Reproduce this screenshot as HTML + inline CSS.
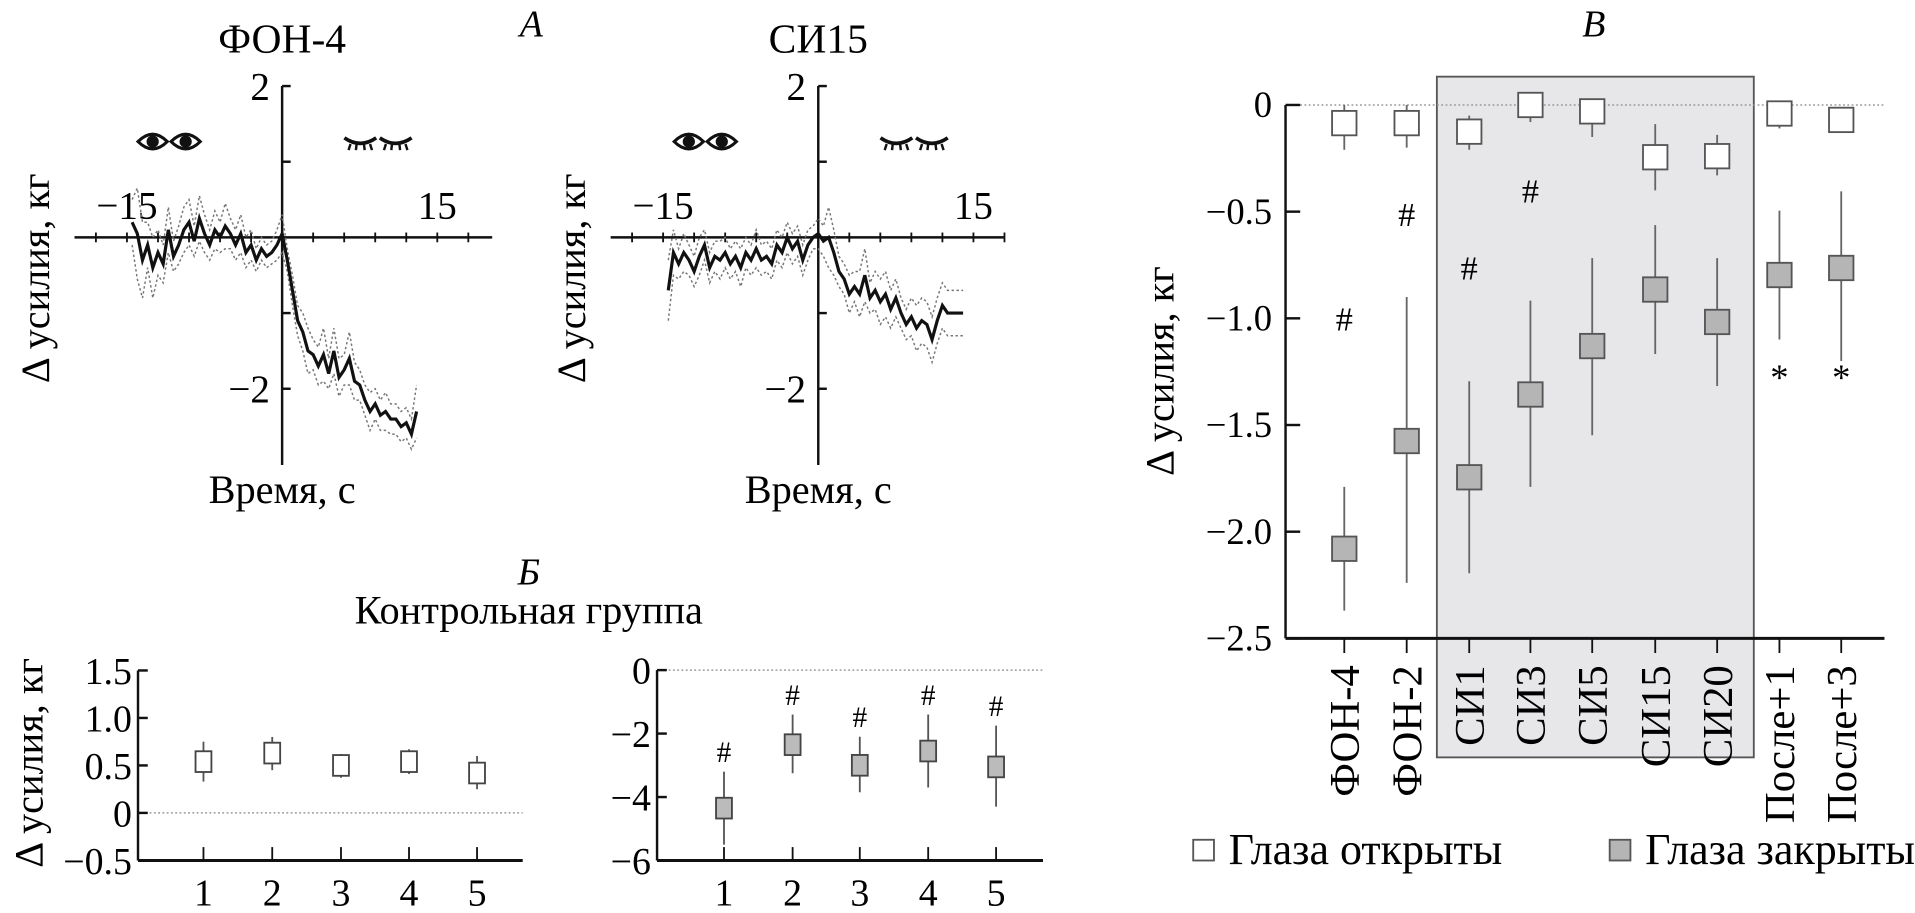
<!DOCTYPE html>
<html><head><meta charset="utf-8"><style>
html,body{margin:0;padding:0;background:#fff;}
svg{display:block;font-family:"Liberation Serif",serif;}
</style></head><body>
<svg id="fig" width="1915" height="913" viewBox="0 0 1568 748" preserveAspectRatio="none" xmlns="http://www.w3.org/2000/svg">
<g id="gA1"></g>
<g id="gA2"></g>
<g id="gB1"></g>
<g id="gB2"></g>
<g id="gC"></g>
</svg>
<script>
// ---- Panel A data ----
const timesA1 = [-14.5,-14,-13.5,-13,-12.5,-12,-11.5,-11,-10.5,-10,-9.5,-9,-8.5,-8,-7.5,-7,-6.5,-6,-5.5,-5,-4.5,-4,-3.5,-3,-2.5,-2,-1.5,-1,-0.5,0,0.5,1,1.5,2,2.5,3,3.5,4,4.5,5,5.5,6,6.5,7,7.5,8,8.5,9,9.5,10,10.5,11,11.5,12,12.5,13];
const meanA1 = [0.2,0.05,-0.3,-0.1,-0.4,-0.2,-0.35,0.1,-0.25,-0.1,0.1,0.2,-0.05,0.25,0.05,-0.1,0.1,0.0,0.15,0.05,-0.1,0.05,-0.2,-0.1,-0.3,-0.15,-0.25,-0.2,-0.1,0.05,-0.3,-0.7,-1.1,-1.25,-1.5,-1.55,-1.7,-1.55,-1.8,-1.5,-1.85,-1.75,-1.6,-1.9,-1.95,-2.15,-2.3,-2.2,-2.35,-2.3,-2.4,-2.4,-2.5,-2.45,-2.6,-2.3];
const sdA1 = [0.3,0.6,0.5,0.3,0.4,0.3,0.25,0.3,0.2,0.25,0.3,0.3,0.2,0.3,0.25,0.2,0.25,0.2,0.3,0.2,0.2,0.25,0.2,0.2,0.15,0.15,0.15,0.15,0.2,0.25,0.15,0.2,0.2,0.25,0.3,0.2,0.25,0.35,0.2,0.3,0.25,0.2,0.35,0.25,0.2,0.2,0.25,0.2,0.2,0.25,0.2,0.2,0.2,0.2,0.2,0.35];
const timesA2 = [-14.5,-14,-13.5,-13,-12.5,-12,-11.5,-11,-10.5,-10,-9.5,-9,-8.5,-8,-7.5,-7,-6.5,-6,-5.5,-5,-4.5,-4,-3.5,-3,-2.5,-2,-1.5,-1,-0.5,0,0.5,1,1.5,2,2.5,3,3.5,4,4.5,5,5.5,6,6.5,7,7.5,8,8.5,9,9.5,10,10.5,11,11.5,12,12.5,13,13.5,14];
const meanA2 = [-0.7,-0.2,-0.35,-0.2,-0.3,-0.45,-0.25,-0.1,-0.4,-0.25,-0.3,-0.2,-0.35,-0.25,-0.4,-0.2,-0.3,-0.15,-0.3,-0.25,-0.35,-0.1,-0.2,0.0,-0.15,-0.05,-0.3,-0.1,0.0,0.05,-0.05,0.0,-0.2,-0.45,-0.55,-0.75,-0.65,-0.75,-0.5,-0.8,-0.7,-0.85,-0.75,-0.95,-0.8,-1.0,-1.15,-1.05,-1.2,-1.1,-1.15,-1.35,-1.1,-0.9,-1.0,-1.0,-1.0,-1.0];
const sdA2 = [0.4,0.3,0.2,0.25,0.2,0.2,0.25,0.2,0.2,0.2,0.25,0.2,0.2,0.2,0.25,0.2,0.2,0.25,0.2,0.2,0.2,0.2,0.2,0.2,0.2,0.2,0.2,0.2,0.15,0.2,0.2,0.4,0.3,0.2,0.2,0.25,0.2,0.3,0.35,0.2,0.25,0.3,0.3,0.25,0.25,0.2,0.2,0.25,0.3,0.3,0.3,0.3,0.3,0.3,0.3,0.3,0.3,0.3];
const xTicksA = ["−15","15"];
const yTicksA = ["2","−2"];
// ---- Panel Б data ----
const catsB = ["1","2","3","4","5"];
const openB = [0.54,0.63,0.5,0.54,0.42];
const openLoB = [0.33,0.45,0.37,0.41,0.25];
const openHiB = [0.75,0.8,0.62,0.67,0.6];
const yTicksB1 = [1.5,1.0,0.5,0,-0.5];
const closedB = [-4.35,-2.35,-3.0,-2.55,-3.05];
const closedLoB = [-5.5,-3.25,-3.85,-3.7,-4.3];
const closedHiB = [-3.2,-1.4,-2.1,-1.4,-1.75];
const yTicksB2 = [0,-2,-4,-6];
// ---- Panel В data ----
const catsC = ["ФОН-4","ФОН-2","СИ1","СИ3","СИ5","СИ15","СИ20","После+1","После+3"];
const openC = [-0.085,-0.085,-0.125,0,-0.03,-0.245,-0.24,-0.04,-0.07];
const openLoC = [-0.21,-0.2,-0.21,-0.08,-0.15,-0.4,-0.33,-0.11,-0.07];
const openHiC = [0,0,-0.05,0,-0.03,-0.09,-0.14,-0.04,-0.07];
const closedC = [-2.08,-1.575,-1.745,-1.357,-1.13,-0.865,-1.017,-0.797,-0.764];
const closedLoC = [-2.37,-2.24,-2.195,-1.79,-1.548,-1.167,-1.317,-1.099,-1.2];
const closedHiC = [-1.79,-0.9,-1.295,-0.917,-0.718,-0.563,-0.718,-0.495,-0.405];
const hashC = [-1.0,-0.51,-0.76,-0.4,null,null,null,null,null];
const starC = [null,null,null,null,null,null,null,-1.25,-1.25];
const yTicksC = [0,-0.5,-1.0,-1.5,-2.0,-2.5];
const yTickLabelsC = ["0","−0.5","−1.0","−1.5","−2.0","−2.5"];

const NS="http://www.w3.org/2000/svg";
function mk(parent,tag,attrs,text){const e=document.createElementNS(NS,tag);for(const k in attrs)e.setAttribute(k,attrs[k]);if(text!==undefined)e.textContent=text;parent.appendChild(e);return e;}
function fmt(v){return v<0?"−"+Math.abs(v).toFixed(1):v===0?"0":v.toFixed(1);}

// ---- Panel A ----
function panelA(g,ax,title,times,mean,sd,axRight){
  const X=t=>ax+t*8.47, Y=v=>194.5-v*62;
  let e=mk(g,"text",{x:ax,y:43,"font-size":34,"text-anchor":"middle"},title);
  
  e=mk(g,"line",{x1:ax,y1:Y(2),x2:ax,y2:381,stroke:"#111","stroke-width":2});
  
  e=mk(g,"line",{x1:ax-170,y1:Y(0),x2:axRight,y2:Y(0),stroke:"#111","stroke-width":2});
  
  [2,1,-1,-2].forEach(v=>{const t=mk(g,"line",{x1:ax,y1:Y(v),x2:ax+7,y2:Y(v),stroke:"#111","stroke-width":2});});
  for(let t=-18;t<=18;t+=3){if(t===0)continue;const l=mk(g,"line",{x1:X(t),y1:Y(0)-4,x2:X(t),y2:Y(0)+4,stroke:"#111","stroke-width":1.5});}
  e=mk(g,"text",{x:X(-15),y:179,"font-size":32,"text-anchor":"middle"},xTicksA[0]);
  e=mk(g,"text",{x:X(15),y:179,"font-size":32,"text-anchor":"middle"},xTicksA[1]);
  e=mk(g,"text",{x:ax-10,y:Y(2)+11,"font-size":32,"text-anchor":"end"},yTicksA[0]);
  e=mk(g,"text",{x:ax-10,y:Y(-2)+11,"font-size":32,"text-anchor":"end"},yTicksA[1]);
  e=mk(g,"text",{x:ax,y:412,"font-size":33,"text-anchor":"middle"},"Время, с");
  e=mk(g,"text",{x:0,y:0,"font-size":33,"text-anchor":"middle",transform:`translate(${ax-191},228) rotate(-90)`},"Δ усилия, кг");
  const up=times.map((t,i)=>X(t)+","+Y(mean[i]+sd[i])).join(" ");
  const lo=times.map((t,i)=>X(t)+","+Y(mean[i]-sd[i])).join(" ");
  e=mk(g,"polyline",{points:up,fill:"none",stroke:"#777","stroke-width":1.2,"stroke-dasharray":"2,2"});
  e=mk(g,"polyline",{points:lo,fill:"none",stroke:"#777","stroke-width":1.2,"stroke-dasharray":"2,2"});
  e=mk(g,"polyline",{points:times.map((t,i)=>X(t)+","+Y(mean[i])).join(" "),fill:"none",stroke:"#111","stroke-width":2.6});
  [ax-106,ax-79].forEach(cx=>{const eg=mk(g,"g",{});
    mk(eg,"path",{d:`M${cx-12},116 Q${cx},104 ${cx+12},116 Q${cx},128 ${cx-12},116Z`,fill:"#fff",stroke:"#111","stroke-width":2.5});
    mk(eg,"circle",{cx:cx,cy:116,r:5,fill:"#111"});});
  [ax+64,ax+93].forEach(cx=>{const eg=mk(g,"g",{});
    mk(eg,"path",{d:`M${cx-13},113 Q${cx},122 ${cx+13},113`,fill:"none",stroke:"#111","stroke-width":3});
    [-8,-3,3,8].forEach(d=>mk(eg,"line",{x1:cx+d,y1:118,x2:cx+d*1.2,y2:123,stroke:"#111","stroke-width":2}));});
}
panelA(document.getElementById("gA1"),231,"ФОН-4",timesA1,meanA1,sdA1,403);
panelA(document.getElementById("gA2"),670,"СИ15",timesA2,meanA2,sdA2,822);
{const g=document.getElementById("gA1");
 let e=mk(g,"text",{x:435,y:30,"font-size":31,"font-style":"italic","text-anchor":"middle"},"А");}

// ---- Panel Б ----
const xB1=[166.6,222.9,279.2,334.9,390.6], xB2=[592.8,649,704,760,815.6];
function panelB(g,ax,axR,Y,yt,ylabels,xs,vals,lo,hi,fill,marks){
  let e=mk(g,"line",{x1:ax,y1:Y(yt[0]),x2:ax,y2:705,stroke:"#111","stroke-width":2});
  e=mk(g,"line",{x1:ax,y1:705,x2:axR,y2:705,stroke:"#111","stroke-width":2.5});
  e=mk(g,"line",{x1:ax+6,y1:Y(0),x2:axR,y2:Y(0),stroke:"#999","stroke-width":1.2,"stroke-dasharray":"1.5,2"});
  yt.forEach((v,i)=>{let t=mk(g,"line",{x1:ax,y1:Y(v),x2:ax+8,y2:Y(v),stroke:"#111","stroke-width":2});
    t=mk(g,"text",{x:ax-5,y:Y(v)+11,"font-size":31,"text-anchor":"end"},ylabels[i]);});
  xs.forEach((x,i)=>{let t=mk(g,"line",{x1:x,y1:694,x2:x,y2:705,stroke:"#111","stroke-width":1.5});
    t=mk(g,"text",{x:x,y:742,"font-size":31,"text-anchor":"middle"},catsB[i]);
    t=mk(g,"line",{x1:x,y1:Y(lo[i]),x2:x,y2:Y(hi[i]),stroke:"#555","stroke-width":1.5});
    t=mk(g,"rect",{x:x-6.5,y:Y(vals[i])-8.5,width:13,height:17,fill:fill,stroke:"#444","stroke-width":1.5});
    if(marks){t=mk(g,"text",{x:x,y:Y(hi[i])-8,"font-size":24,"text-anchor":"middle"},"#");}
  });
}
panelB(document.getElementById("gB1"),113,428,v=>666-v*77.8,yTicksB1,yTicksB1.map(fmt),xB1,openB,openLoB,openHiB,"#fff",false);
panelB(document.getElementById("gB2"),538,854,v=>549-v*26,yTicksB2,yTicksB2.map(v=>v<0?"−"+Math.abs(v):"0"),xB2,closedB,closedLoB,closedHiB,"#bbb",true);
{const g=document.getElementById("gB1");
 let e=mk(g,"text",{x:433,y:479,"font-size":31,"font-style":"italic","text-anchor":"middle"},"Б");
 e=mk(g,"text",{x:433,y:511,"font-size":33,"text-anchor":"middle"},"Контрольная группа");
 e=mk(g,"text",{x:0,y:0,"font-size":33,"text-anchor":"middle",transform:"translate(35,625) rotate(-90)"},"Δ усилия, кг");}

// ---- Panel В ----
{const g=document.getElementById("gC");
 const ax=1052.6, axR=1543, Y=v=>86-v*174.8;
 const xs=[1100.7,1151.8,1203,1253.1,1303.7,1355.3,1406,1457,1507.6];
 let e=mk(g,"rect",{x:1176.5,y:62.8,width:259.5,height:557.7,fill:"#e7e7ea",stroke:"#555","stroke-width":1.5});
 e=mk(g,"line",{x1:ax,y1:Y(0),x2:ax,y2:Y(-2.5),stroke:"#111","stroke-width":2});
 e=mk(g,"line",{x1:ax,y1:Y(-2.5),x2:axR,y2:Y(-2.5),stroke:"#111","stroke-width":2.5});
 e=mk(g,"line",{x1:ax+12,y1:Y(0),x2:axR,y2:Y(0),stroke:"#999","stroke-width":1.2,"stroke-dasharray":"1.5,2"});
 yTicksC.forEach((v,i)=>{let t=mk(g,"line",{x1:ax,y1:Y(v),x2:ax+12,y2:Y(v),stroke:"#111","stroke-width":2});
   t=mk(g,"text",{x:ax-11,y:Y(v)+10,"font-size":30,"text-anchor":"end"},yTickLabelsC[i]);});
 e=mk(g,"text",{x:0,y:0,"font-size":33,"text-anchor":"middle",transform:"translate(961,304) rotate(-90)"},"Δ усилия, кг");
 e=mk(g,"text",{x:1305,y:30,"font-size":31,"font-style":"italic","text-anchor":"middle"},"В");
 xs.forEach((x,i)=>{let t=mk(g,"line",{x1:x,y1:Y(-2.5),x2:x,y2:Y(-2.5)+12,stroke:"#111","stroke-width":1.5});
   t=mk(g,"text",{x:0,y:0,"font-size":35,"text-anchor":"end",transform:`translate(${x+12},545) rotate(-90)`},catsC[i]);
   t=mk(g,"line",{x1:x,y1:Y(openLoC[i]),x2:x,y2:Y(openHiC[i]),stroke:"#666","stroke-width":1.5});
   t=mk(g,"rect",{x:x-10,y:Y(openC[i])-10,width:20,height:20,fill:"#fff",stroke:"#555","stroke-width":1.5});
   t=mk(g,"line",{x1:x,y1:Y(closedLoC[i]),x2:x,y2:Y(closedHiC[i]),stroke:"#666","stroke-width":1.5});
   t=mk(g,"rect",{x:x-10,y:Y(closedC[i])-10,width:20,height:20,fill:"#b5b5b5",stroke:"#555","stroke-width":1.5});
   if(hashC[i]!==null){t=mk(g,"text",{x:x,y:Y(hashC[i])+10,"font-size":28,"text-anchor":"middle"},"#");}
   if(starC[i]!==null){t=mk(g,"text",{x:x,y:Y(starC[i])+15,"font-size":30,"text-anchor":"middle"},"*");}
 });
 e=mk(g,"rect",{x:977,y:688,width:17,height:17,fill:"#fff",stroke:"#555","stroke-width":1.5});
 e=mk(g,"text",{x:1006,y:708,"font-size":36},"Глаза открыты");
 e=mk(g,"rect",{x:1318,y:688,width:17,height:17,fill:"#b5b5b5",stroke:"#555","stroke-width":1.5});
 e=mk(g,"text",{x:1347,y:708,"font-size":36},"Глаза закрыты");
}
</script>
</body></html>
